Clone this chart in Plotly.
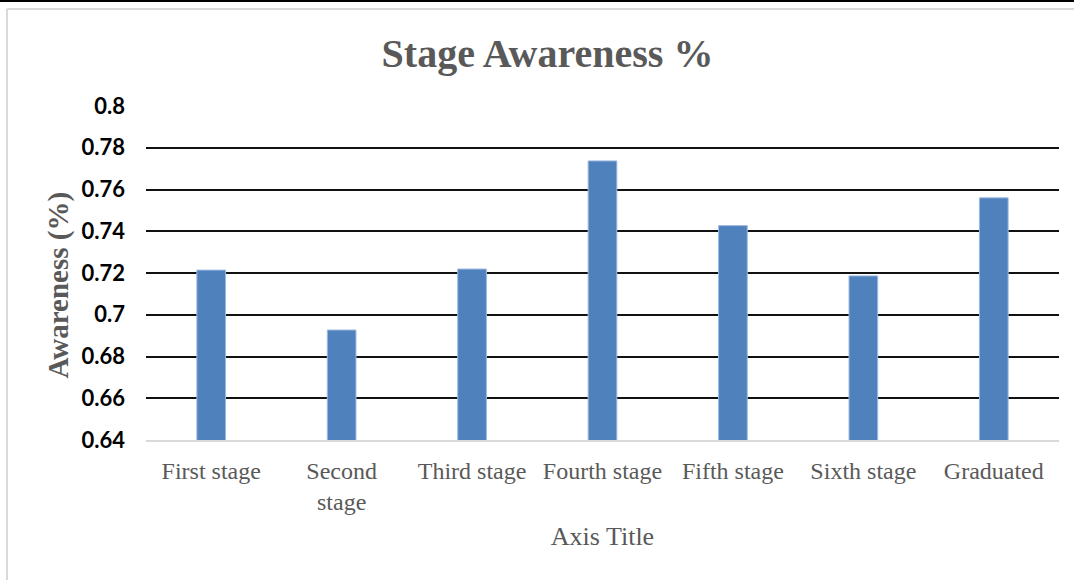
import plotly.graph_objects as go

categories = ["First stage", "Second<br>stage", "Third stage", "Fourth stage",
              "Fifth stage", "Sixth stage", "Graduated"]
awareness = [0.7214, 0.6927, 0.7219, 0.7737, 0.7427, 0.7186, 0.7560]
tick_vals = [0.64, 0.66, 0.68, 0.70, 0.72, 0.74, 0.76, 0.78, 0.80]
tick_text = ["0.64", "0.66", "0.68", "0.7", "0.72", "0.74", "0.76", "0.78", "0.8"]

W, H = 1074, 580
L, R, T, B = 146, 15, 106, 140
pw, ph = W - L - R, H - T - B

def px(x):
    return (x - L) / pw

def py(y):
    return 1 - (y - T) / ph

fig = go.Figure()
fig.add_trace(go.Bar(
    x=categories, y=awareness,
    marker=dict(color="#4f81bd", line=dict(color="#9fbbe0", width=1)),
))

serif = "'Liberation Serif', serif"
fig.update_layout(
    width=W, height=H,
    margin=dict(l=L, r=R, t=T, b=B),
    paper_bgcolor="white", plot_bgcolor="white",
    bargap=0.78,
    showlegend=False,
    title=dict(text="<b>Stage Awareness %</b>", x=547.5 / W, xref="container", xanchor="center",
               y=1 - 53 / H, yanchor="middle",
               font=dict(family=serif, size=40, color="#595959")),
    xaxis=dict(
        showline=True, linecolor="#d9d9d9", linewidth=2,
        showgrid=False, ticks="",
        ticklabelstandoff=8,
        tickfont=dict(family=serif, size=24, color="#595959"),
        title=dict(text="Axis Title", font=dict(family=serif, size=26, color="#595959"), standoff=13),
        tickangle=0,
    ),
    yaxis=dict(
        range=[0.64, 0.80], tickvals=tick_vals, ticktext=tick_text,
        showgrid=True, gridcolor="#111111", gridwidth=2,
        zeroline=False, showline=False, ticks="",
        ticklabelstandoff=20,
        tickfont=dict(family="Lato, 'Liberation Sans', sans-serif", size=22, color="#000000", weight="bold"),
    ),
    annotations=[
        dict(text="<b>Awareness (%)</b>", textangle=-90, showarrow=False,
             xref="paper", yref="paper", x=px(57.5), y=py(285),
             xanchor="center", yanchor="middle",
             font=dict(family=serif, size=29, color="#595959")),
    ],
    shapes=[
        dict(type="line", xref="paper", yref="paper", x0=px(0), x1=px(W), y0=py(1), y1=py(1),
             line=dict(color="#000000", width=2)),
        dict(type="line", xref="paper", yref="paper", x0=px(7), x1=px(W), y0=py(9), y1=py(9),
             line=dict(color="#d9d9d9", width=2)),
        dict(type="line", xref="paper", yref="paper", x0=px(7), x1=px(7), y0=py(9), y1=py(H),
             line=dict(color="#d9d9d9", width=2)),
    ],
)

fig.write_html("out.html")
